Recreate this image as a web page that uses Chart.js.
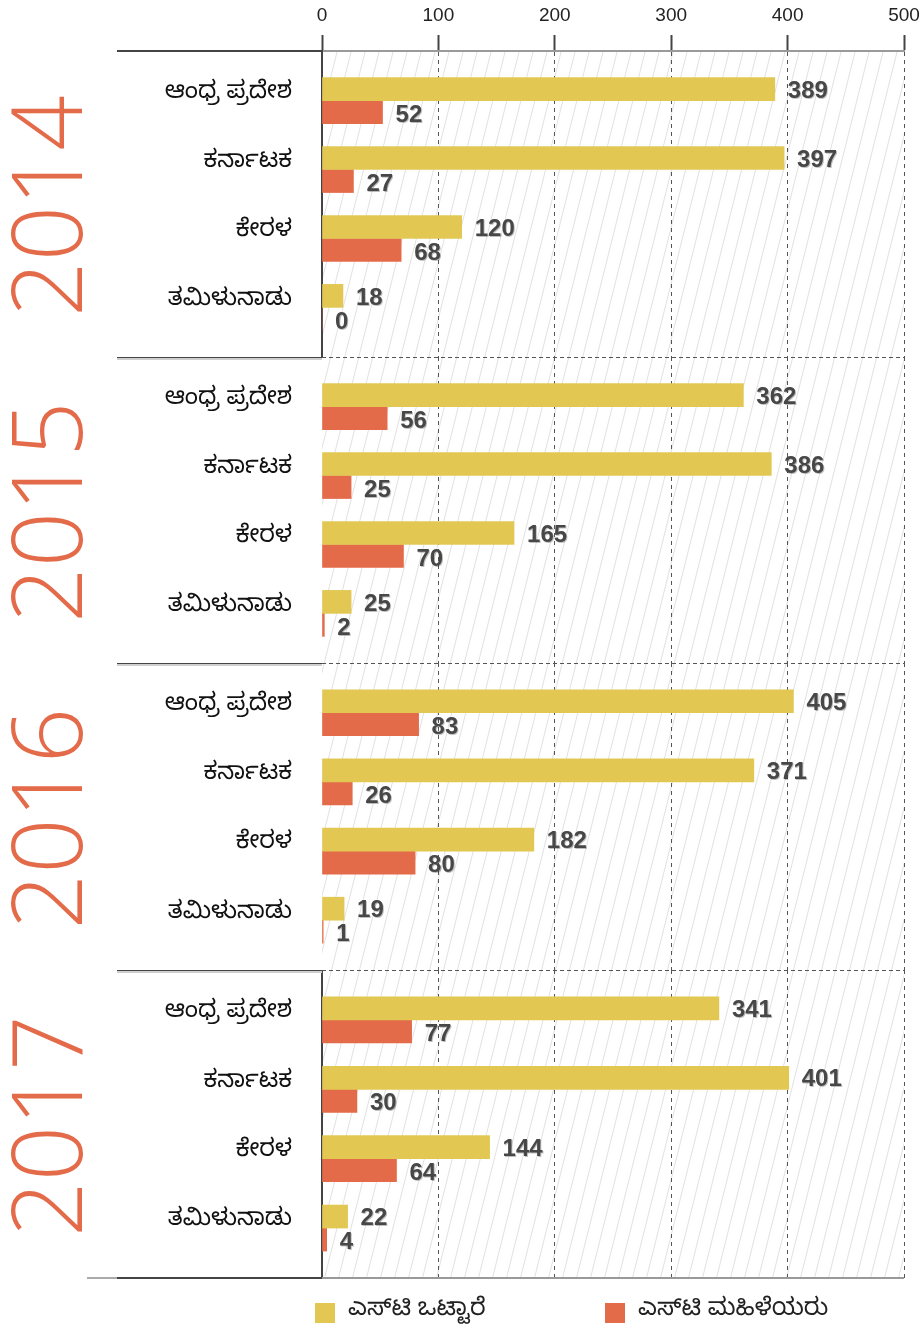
<!DOCTYPE html>
<html>
<head>
<meta charset="utf-8">
<script src="https://cdn.jsdelivr.net/npm/chart.js@4.4.1/dist/chart.umd.min.js"></script>
<style>
    html, body { margin: 0; padding: 0; background: #fff; }
    #wrap { position: relative; width: 921px; height: 1333px; }
    #wrap canvas { position: absolute; left: 0; }
</style>
</head>
<body>
<div id="wrap">
    <canvas id="panel0" width="921" height="357" style="top:0px"></canvas>
    <canvas id="panel1" width="921" height="306" style="top:357px"></canvas>
    <canvas id="panel2" width="921" height="307" style="top:663px"></canvas>
    <canvas id="panel3" width="921" height="363" style="top:970px"></canvas>
</div>
<script>
// データ
const years = ['2014', '2015', '2016', '2017'];
const states = ['ಆಂಧ್ರ ಪ್ರದೇಶ', 'ಕರ್ನಾಟಕ', 'ಕೇರಳ', 'ತಮಿಳುನಾಡು'];
const seriesNames = ['ಎಸ್‌ಟಿ ಒಟ್ಟಾರೆ', 'ಎಸ್‌ಟಿ ಮಹಿಳೆಯರು'];
const stTotal = [
    [389, 397, 120, 18],
    [362, 386, 165, 25],
    [405, 371, 182, 19],
    [341, 401, 144, 22]
];
const stWomen = [
    [52, 27, 68, 0],
    [56, 25, 70, 2],
    [83, 26, 80, 1],
    [77, 30, 64, 4]
];
const xTicks = [0, 100, 200, 300, 400, 500];

const YELLOW = '#E2C853';
const ORANGE = '#E46B4A';
const KN_FONT = '"Noto Sans Kannada", "Noto Sans", "Lohit Kannada", sans-serif';

// 背景の斜線
const hatchPlugin = {
    id: 'hatch',
    beforeDraw(chart, args, opts) {
        const { ctx, chartArea: a } = chart;
        const off = opts.offsetTop;
        ctx.save();
        ctx.beginPath();
        ctx.rect(a.left, a.top, a.right - a.left, a.bottom - a.top);
        ctx.clip();
        ctx.strokeStyle = '#e0e0e0';
        ctx.lineWidth = 1;
        for (let c = 0; c < 921 + 0.25 * 1400; c += 14) {
            // x = c - 0.25 * (global y)
            const yt = a.top, yb = a.bottom;
            ctx.beginPath();
            ctx.moveTo(c - 0.25 * (yt + off), yt);
            ctx.lineTo(c - 0.25 * (yb + off), yb);
            ctx.stroke();
        }
        ctx.restore();
    }
};

// 値ラベル・枠線・年ラベル・凡例
const decoPlugin = {
    id: 'deco',
    afterDatasetsDraw(chart) {
        const ctx = chart.ctx;
        ctx.save();
        ctx.font = 'bold 24px "Liberation Sans", Arial, sans-serif';
        ctx.fillStyle = '#474747';
        ctx.textBaseline = 'middle';
        ctx.shadowColor = 'rgba(0,0,0,0.25)';
        ctx.shadowOffsetX = 1;
        ctx.shadowOffsetY = 1;
        chart.data.datasets.forEach((ds, di) => {
            chart.getDatasetMeta(di).data.forEach((bar, k) => {
                ctx.fillText(String(ds.data[k].x), bar.x + 13, bar.y + (di === 0 ? 2 : 3));
            });
        });
        ctx.restore();
    },
    afterDraw(chart, args, opts) {
        const { ctx, chartArea: a } = chart;
        const idx = opts.index;
        ctx.save();
        // 左側の区切り線
        ctx.lineWidth = 2;
        ctx.strokeStyle = '#444';
        ctx.beginPath();
        ctx.moveTo(117, a.top);
        ctx.lineTo(a.left, a.top);
        ctx.stroke();
        if (idx > 0) {
            ctx.strokeStyle = '#cfcfcf';
            ctx.beginPath();
            ctx.moveTo(117, a.top + 2);
            ctx.lineTo(a.left, a.top + 2);
            ctx.stroke();
            // 右側は破線
            ctx.strokeStyle = '#555';
            ctx.lineWidth = 1;
            ctx.setLineDash([4, 3]);
            ctx.beginPath();
            ctx.moveTo(a.left, a.top + 0.5);
            ctx.lineTo(a.right, a.top + 0.5);
            ctx.stroke();
            ctx.setLineDash([]);
        }
        if (idx === 3) {
            ctx.lineWidth = 2;
            ctx.strokeStyle = '#aaa';
            ctx.beginPath(); ctx.moveTo(87, a.bottom); ctx.lineTo(117, a.bottom); ctx.stroke();
            ctx.strokeStyle = '#444';
            ctx.beginPath(); ctx.moveTo(117, a.bottom); ctx.lineTo(a.left, a.bottom); ctx.stroke();
            ctx.strokeStyle = '#999';
            ctx.beginPath(); ctx.moveTo(a.left, a.bottom); ctx.lineTo(a.right, a.bottom); ctx.stroke();
        }
        // 年ラベル（縦書き）
        ctx.fillStyle = ORANGE;
        ctx.font = '300 97px "Open Sans", "DejaVu Sans", sans-serif';
        ctx.textAlign = 'center';
        ctx.textBaseline = 'alphabetic';
        ctx.translate(82, (a.top + a.bottom) / 2 + 2);
        ctx.rotate(-Math.PI / 2);
        ctx.fillText(years[idx], 0, 0);
        ctx.restore();

        // 凡例
        if (idx === 3) {
            ctx.save();
            ctx.font = '24px ' + KN_FONT;
            ctx.textBaseline = 'middle';
            const boxX = [315, 605];
            chart.data.datasets.forEach((ds, di) => {
                ctx.fillStyle = ds.backgroundColor;
                ctx.fillRect(boxX[di], a.bottom + 25, 20, 20);
                ctx.fillStyle = '#222';
                ctx.fillText(ds.label, boxX[di] + 33, a.bottom + 35);
            });
            ctx.restore();
        }
    }
};

function makePanel(idx, offsetTop) {
    const ctx = document.getElementById('panel' + idx).getContext('2d');
    return new Chart(ctx, {
        type: 'bar',
        data: {
            datasets: [
                {
                    label: seriesNames[0],
                    data: stTotal[idx].map((v, k) => ({ x: v, y: k })),
                    backgroundColor: YELLOW,
                    barThickness: 23
                },
                {
                    label: seriesNames[1],
                    data: stWomen[idx].map((v, k) => ({ x: v, y: k })),
                    backgroundColor: ORANGE,
                    barThickness: 23
                }
            ]
        },
        plugins: [hatchPlugin, decoPlugin],
        options: {
            indexAxis: 'y',
            responsive: false,
            animation: false,
            layout: { padding: { left: 0, right: 17, top: 0, bottom: idx === 3 ? 55 : 0 } },
            scales: {
                x: {
                    type: 'linear',
                    position: 'top',
                    min: 0,
                    max: 500,
                    afterBuildTicks: s => { s.ticks = xTicks.map(v => ({ value: v })); },
                    afterFit: s => {
                        s.height = idx === 0 ? 51 : 0;
                        s.paddingLeft = 0;
                        s.paddingRight = 0;
                    },
                    ticks: {
                        display: idx === 0,
                        padding: 8,
                        color: '#222',
                        font: { family: '"Liberation Sans", Arial, sans-serif', size: 19 }
                    },
                    grid: {
                        color: c => (c.tick && c.tick.value === 0) ? 'rgba(0,0,0,0)' : '#555',
                        lineWidth: 1,
                        drawTicks: idx === 0,
                        tickLength: 16,
                        tickColor: '#444',
                        tickWidth: 2,
                        tickBorderDash: []
                    },
                    border: { display: idx === 0, color: '#9a9a9a', width: 2, dash: [4, 4] }
                },
                y: {
                    type: 'linear',
                    reverse: true,
                    offset: false,
                    min: -0.72,
                    max: 3.72,
                    afterBuildTicks: s => { s.ticks = states.map((_, k) => ({ value: k })); },
                    afterFit: s => {
                        s.width = 322;
                        s.paddingTop = 0;
                        s.paddingBottom = 0;
                    },
                    ticks: {
                        callback: v => states[v],
                        color: '#111',
                        padding: 0,
                        labelOffset: -5,
                        font: { family: KN_FONT, size: 24 }
                    },
                    grid: { display: false, drawTicks: true, tickLength: 30 },
                    border: { display: idx === 0 || idx === 3, color: '#444', width: 2 }
                }
            },
            plugins: {
                legend: { display: false },
                tooltip: { enabled: false },
                hatch: { offsetTop: offsetTop },
                deco: { index: idx }
            }
        }
    });
}

const panelTops = [0, 357, 663, 970];
years.forEach((y, i) => makePanel(i, panelTops[i]));
</script>
</body>
</html>
